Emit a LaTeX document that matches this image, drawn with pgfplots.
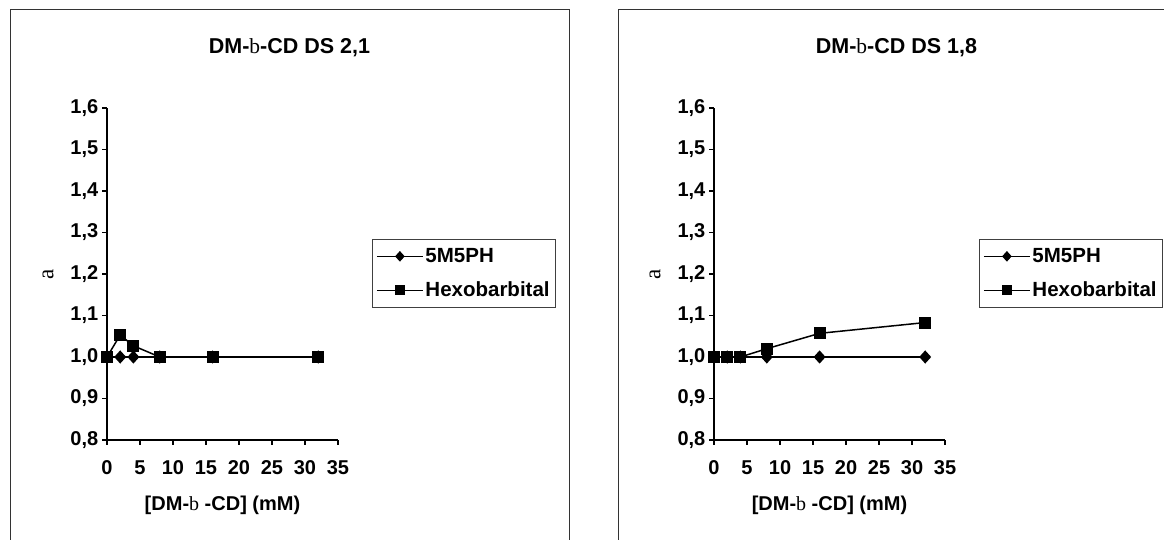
\documentclass[border=0pt]{standalone}
\usepackage{fontspec}
\setmainfont{Liberation Sans}
\newfontfamily\serif{Liberation Serif}
\usepackage{pgfplots}
\pgfplotsset{compat=1.18}

\pgfplotsset{
  panel/.style={
    scale only axis, width=231pt, height=332pt,
    anchor=south west,
    xmin=0, xmax=35, ymin=0.8, ymax=1.6,
    axis lines*=left,
    axis line style={line width=1.5pt, black},
    xtick={0,5,10,15,20,25,30,35},
    ytick={0.8,0.9,1.0,1.1,1.2,1.3,1.4,1.5,1.6},
    tick align=outside, major tick length=5pt,
    tick style={line width=1.2pt, black},
    tick label style={font=\bfseries\fontsize{20}{20}\selectfont},
    /pgf/number format/assume math mode=true,
    yticklabel style={/pgf/number format/fixed, /pgf/number format/fixed zerofill,
      /pgf/number format/precision=1, /pgf/number format/use comma, inner xsep=3.5pt},
    xticklabel style={yshift=-12pt},
    clip=false,
    legend style={at={(1.147,0.605)}, anchor=north west, draw=black!75,
      line width=0.8pt, fill=white,
      font=\bfseries\fontsize{20.5}{20.5}\selectfont,
      cells={anchor=west}, inner xsep=4pt, inner ysep=7pt, row sep=14pt},
    legend image code/.code={\draw[mark repeat=2,mark phase=2,##1, line width=1.1pt, mark size=4.5pt]
      plot coordinates {(0pt,0pt) (23pt,0pt) (46pt,0pt)};},
  },
  s1/.style={black, line width=1.5pt, mark=diamond*, mark size=5.5pt, mark options={solid, fill=black, xscale=1.2}},
  s2/.style={black, line width=1.5pt, mark=square*, mark size=5.3pt, mark options={solid, fill=black}},
}

\begin{document}
\begin{tikzpicture}[x=1pt,y=1pt]
\useasboundingbox (0,0) rectangle (1164,540);
\draw[line width=1pt, black!80] (10,-5) -- (10,530) -- (569,530) -- (569,-5);
\draw[line width=1pt, black!80] (618,-5) -- (618,530) -- (1185,530) -- (1185,-5);

\begin{axis}[panel, at={(107pt,100pt)}]
\addplot[s1] coordinates {(0,1.0) (2,1.0) (4,1.0) (8,1.0) (16,1.0) (32,1.0)};
\addplot[s2] coordinates {(0,1.0) (2,1.053) (4,1.027) (8,1.0) (16,1.0) (32,1.0)};
\legend{5M5PH, Hexobarbital}
\end{axis}
\node[font=\bfseries\fontsize{21.5}{21.5}\selectfont] at (289.5,492) {DM-{\serif\mdseries b}-CD DS 2,1};
\node[font=\bfseries\fontsize{20}{20}\selectfont] at (222.5,35) {[DM-{\serif\mdseries b} -CD] (mM)};
\node[rotate=90, font=\serif\fontsize{23}{23}\selectfont] at (48,266) {a};

\begin{axis}[panel, at={(714pt,100pt)}]
\addplot[s1] coordinates {(0,1.0) (2,1.0) (4,1.0) (8,1.0) (16,1.0) (32,1.0)};
\addplot[s2] coordinates {(0,1.0) (2,1.0) (4,1.0) (8,1.02) (16,1.057) (32,1.083)};
\legend{5M5PH, Hexobarbital}
\end{axis}
\node[font=\bfseries\fontsize{21.5}{21.5}\selectfont] at (896.5,492) {DM-{\serif\mdseries b}-CD DS 1,8};
\node[font=\bfseries\fontsize{20}{20}\selectfont] at (829.5,35) {[DM-{\serif\mdseries b} -CD] (mM)};
\node[rotate=90, font=\serif\fontsize{23}{23}\selectfont] at (655,266) {a};
\end{tikzpicture}
\end{document}
